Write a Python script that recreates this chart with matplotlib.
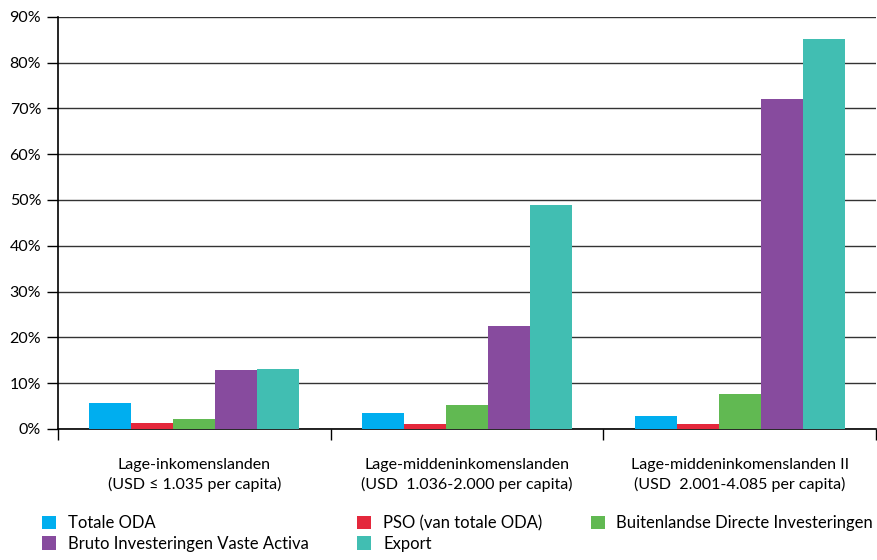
import matplotlib
matplotlib.use("Agg")
import matplotlib.pyplot as plt
from matplotlib.patches import Patch
import numpy as np

plt.rcParams["font.family"] = ["Lato", "DejaVu Sans"]

# data (percentages)
categories = [
    "Lage-inkomenslanden\n(USD \u2264 1.035 per capita)",
    "Lage-middeninkomenslanden\n(USD  1.036-2.000 per capita)",
    "Lage-middeninkomenslanden II\n(USD  2.001-4.085 per capita)",
]
series_names = [
    "Totale ODA",
    "PSO (van totale ODA)",
    "Buitenlandse Directe Investeringen",
    "Bruto Investeringen Vaste Activa",
    "Export",
]
totale_oda = [5.6, 3.5, 2.8]
pso = [1.3, 1.1, 1.1]
bdi = [2.2, 5.2, 7.6]
bruto_inv = [12.9, 22.5, 72.0]
export = [13.1, 48.9, 85.2]
yticks = [0, 10, 20, 30, 40, 50, 60, 70, 80, 90]

colors = ["#00AEEF", "#E4283C", "#61B952", "#874B9E", "#41BEB2"]
values = [totale_oda, pso, bdi, bruto_inv, export]

fig = plt.figure(figsize=(8.77, 5.6), dpi=100)
ax = fig.add_axes([0.066, 0.234, 0.933, 0.736])

x = np.arange(len(categories))
w = 0.154
for i, (vals, col) in enumerate(zip(values, colors)):
    ax.bar(x + (i - 2) * w, vals, width=w, color=col, zorder=3)

ax.set_xlim(-0.5, len(categories) - 0.5)
ax.set_ylim(0, 90)
ax.set_yticks(yticks)
ax.set_yticklabels([f"{v}%" for v in yticks], fontsize=11.5)
ax.yaxis.grid(True, color="#333333", linewidth=1.0, zorder=0)
ax.set_axisbelow(True)

# group boundaries as major ticks, labels on minor ticks at centers
ax.set_xticks(np.arange(len(categories) + 1) - 0.5)
ax.set_xticklabels([])
ax.set_xticks(x, minor=True)
ax.set_xticklabels(categories, minor=True, fontsize=11.5, linespacing=1.4)
ax.tick_params(axis="x", which="major", length=8, width=1, direction="out", color="black")
ax.tick_params(axis="x", which="minor", length=0, pad=21)
ax.tick_params(axis="y", length=8, width=1, direction="out", pad=4)

for s in ["top", "right"]:
    ax.spines[s].set_visible(False)
for s in ["left", "bottom"]:
    ax.spines[s].set_color("black")
    ax.spines[s].set_linewidth(1.2)

handles = [Patch(facecolor=c, edgecolor="none") for c in colors]
order = [0, 3, 1, 4, 2]
fig.legend([handles[i] for i in order], [series_names[i] for i in order],
           loc="lower left", bbox_to_anchor=(0.031, -0.012), ncol=3,
           frameon=False, fontsize=12, handlelength=0.85, handleheight=0.85,
           handletextpad=0.7, columnspacing=2.9, labelspacing=0.28)

fig.savefig("out.png", dpi=100)
